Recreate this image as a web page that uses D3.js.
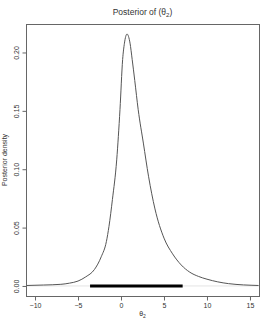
<!DOCTYPE html>
<html>
<head>
<meta charset="utf-8">
<script src="https://cdn.jsdelivr.net/npm/d3@7"></script>
<style>
  body { margin: 0; background: #fff; }
  svg text { font-family: "Liberation Sans", Arial, sans-serif; fill: #333; }
</style>
</head>
<body>
<svg width="273" height="327"></svg>
<script>
// posterior density curve
var theta = [-11, -9, -7, -6, -5, -4.1, -3.1, -2.3, -1.7, -1.4, -1.0, -0.5, -0.12, 0.19, 0.4, 0.7, 1.05, 1.3, 1.6, 2.0, 2.6, 3.2, 3.95, 5.0, 6.0, 7.0, 8.0, 9.0, 10.0, 12.5, 16];
var dens  = [0.0004, 0.0008, 0.0014, 0.0024, 0.0042, 0.0078, 0.014, 0.025, 0.038, 0.051, 0.074, 0.108, 0.151, 0.194, 0.208, 0.2158, 0.208, 0.194, 0.176, 0.151, 0.1224, 0.094, 0.066, 0.041, 0.0275, 0.018, 0.0118, 0.0082, 0.0058, 0.002, 0.0004];
var interval = [-3.6, 7.17];   // thick bar along zero
var xTicks = [-10, -5, 0, 5, 10, 15];
var yTicks = [0, 0.05, 0.10, 0.15, 0.20];

var svg = d3.select("svg"),
    pLeft = 26, pRight = 259, pTop = 24, pBottom = 296;

var x = d3.scaleLinear().domain([-11.05, 16.05]).range([pLeft, pRight]),
    y = d3.scaleLinear().domain([-0.0086, 0.2244]).range([pBottom, pTop]);

svg.append("clipPath").attr("id", "clip")
  .append("rect").attr("x", pLeft).attr("y", pTop).attr("width", pRight - pLeft).attr("height", pBottom - pTop);

var pts = theta.map((t, i) => [t, dens[i]]);

var g = svg.append("g").attr("clip-path", "url(#clip)");

// light zero line
g.append("line")
  .attr("x1", pLeft).attr("x2", pRight).attr("y1", y(0)).attr("y2", y(0))
  .style("stroke", "#e4e4e4").style("stroke-width", 1);

g.append("path")
  .datum(pts)
  .attr("d", d3.line().x(d => x(d[0])).y(d => y(d[1])).curve(d3.curveMonotoneX))
  .style("fill", "none").style("stroke", "#555").style("stroke-width", 1);

g.append("line")
  .attr("x1", x(interval[0])).attr("x2", x(interval[1])).attr("y1", y(0)).attr("y2", y(0))
  .style("stroke", "#000").style("stroke-width", 3);

// box
svg.append("rect")
  .attr("x", pLeft + 0.5).attr("y", pTop + 0.5).attr("width", pRight - pLeft).attr("height", pBottom - pTop)
  .style("fill", "none").style("stroke", "#666").style("stroke-width", 1);

// x axis
var xa = svg.append("g").attr("transform", "translate(0," + (pBottom + 0.5) + ")")
  .call(d3.axisBottom(x).tickValues(xTicks).tickSize(4).tickPadding(3).tickFormat(d3.format("d")));
xa.select(".domain").remove();
xa.selectAll("line").style("stroke", "#666");
xa.selectAll("text").style("font-size", "7px").style("fill", "#333");

// y axis, labels turned like R
var ya = svg.append("g").attr("transform", "translate(" + (pLeft + 0.5) + ",0)")
  .call(d3.axisLeft(y).tickValues(yTicks).tickSize(4).tickFormat(d3.format(".2f")));
ya.select(".domain").remove();
ya.selectAll("line").style("stroke", "#666");
ya.selectAll("text").remove();
ya.selectAll(".tick").append("text")
  .attr("transform", "translate(-8,0) rotate(-90)")
  .attr("text-anchor", "middle")
  .style("font-size", "7px").style("fill", "#333")
  .text(d => d3.format(".2f")(d));

// titles
var title = svg.append("text").attr("x", (pLeft + pRight) / 2).attr("y", 15)
  .attr("text-anchor", "middle").style("font-size", "8.5px");
title.append("tspan").text("Posterior of (\u03b8");
title.append("tspan").attr("dy", 2).style("font-size", "6px").text("2");
title.append("tspan").attr("dy", -2).text(")");

var xl = svg.append("text").attr("x", (pLeft + pRight) / 2).attr("y", 316)
  .attr("text-anchor", "middle").style("font-size", "7px");
xl.append("tspan").text("\u03b8");
xl.append("tspan").attr("dy", 2).style("font-size", "5px").text("2");

svg.append("text")
  .attr("transform", "translate(7," + ((pTop + pBottom) / 2) + ") rotate(-90)")
  .attr("text-anchor", "middle").style("font-size", "7px")
  .text("Posterior density");
</script>
</body>
</html>
